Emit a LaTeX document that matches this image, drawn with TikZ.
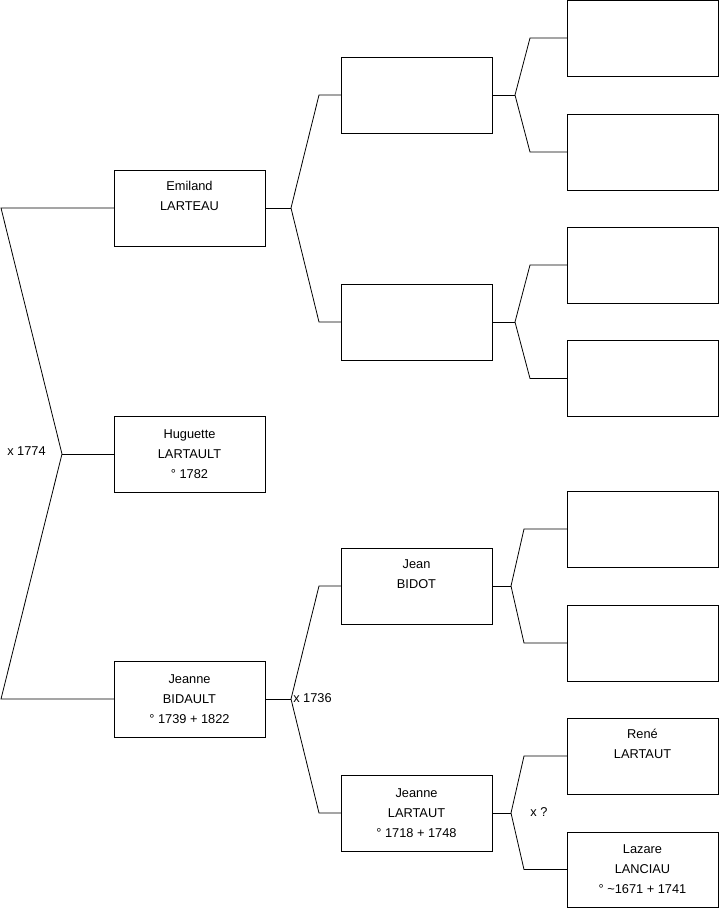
\documentclass[tikz,border=0pt]{standalone}
\usepackage{fontspec}
\setmainfont{Liberation Sans}

\begin{document}
\begin{tikzpicture}[x=1pt,y=-1pt,
  person/.style={draw,line width=0.8pt,minimum width=151pt,minimum height=76pt,
    inner sep=0pt,outer sep=0pt,align=center,font=\fontsize{12.8}{20}\selectfont},
  link/.style={line width=0.8pt},
  union/.style={inner sep=1pt,font=\fontsize{12.8}{14}\selectfont}]
  \useasboundingbox (0,0) rectangle (719,908);
  \node[person] (emiland) at (189.5,208) {Emiland\\LARTEAU\\\rule[-4pt]{0pt}{4pt}};
  \node[person] (huguette) at (189.5,454) {Huguette\\LARTAULT\\° 1782};
  \node[person] (jeanneB) at (189.5,699) {Jeanne\\BIDAULT\\° 1739 + 1822};
  \node[person] (g2a) at (416.5,95) {};
  \node[person] (g2b) at (416.5,322) {};
  \node[person] (jean) at (416.5,586) {Jean\\BIDOT\\\rule[-4pt]{0pt}{4pt}};
  \node[person] (jeanneL) at (416.5,813) {Jeanne\\LARTAUT\\° 1718 + 1748};
  \foreach \n/\y in {g3a/38,g3b/152,g3c/265,g3d/378.5,g3e/529,g3f/643}
    \node[person] (\n) at (642.5,\y) {};
  \node[person] (rene) at (642.5,756) {René\\LARTAUT\\\rule[-4pt]{0pt}{4pt}};
  \node[person,minimum height=75pt] (lazare) at (642.5,869.5) {Lazare\\LANCIAU\\° \textasciitilde1671 + 1741};
  \coordinate (fR) at (62,454);
  \draw[link] (huguette.west) -- (fR);
  \draw[link] (emiland.west) -- ++(-113,0) -- (fR);
  \draw[link] (jeanneB.west) -- ++(-113,0) -- (fR);
  \foreach \c/\a/\b/\d/\e in {emiland/g2a/g2b/26/22,jeanneB/jean/jeanneL/26/22,
      g2a/g3a/g3b/23/37,g2b/g3c/g3d/23/37,jean/g3e/g3f/19/43,jeanneL/rene/lazare/19/43}{
    \draw[link] (\c.east) -- ++(\d,0) coordinate (f\c);
    \draw[link] (\a.west) -- ++(-\e,0) -- (f\c);
    \draw[link] (\b.west) -- ++(-\e,0) -- (f\c);
  }
  \node[union] (x1774) at (26.5,451) {x 1774};
  \node[union] (x1736) at (312.5,698) {x 1736};
  \node[union] (xq) at (539,812) {x ?};
\end{tikzpicture}
\end{document}
